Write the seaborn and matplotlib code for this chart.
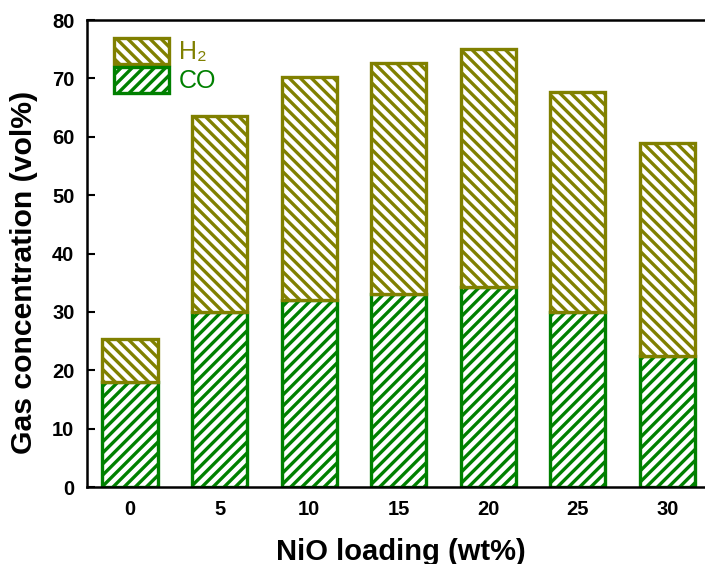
import matplotlib
matplotlib.use("Agg")
import matplotlib.pyplot as plt
import seaborn as sns
import pandas as pd
from matplotlib.patches import Patch

loading = ["0", "5", "10", "15", "20", "25", "30"]
co = [18.0, 30.0, 32.0, 33.0, 34.2, 30.0, 22.5]
total = [25.4, 63.5, 70.3, 72.7, 75.0, 67.7, 59.0]
h2 = [t - c for t, c in zip(total, co)]

GREEN = "#008000"
OLIVE = "#808000"

sns.set_theme(style="ticks")
plt.rcParams["font.family"] = ["Liberation Sans", "DejaVu Sans"]
plt.rcParams["hatch.linewidth"] = 2.4
for k in ["text.color", "axes.labelcolor", "xtick.color", "ytick.color", "axes.edgecolor"]:
    plt.rcParams[k] = "black"

df = pd.DataFrame({"loading": loading, "CO": co, "H2": h2})

fig = plt.figure(figsize=(7.05, 5.64), dpi=100)
ax = fig.add_axes([0.1234, 0.1365, 0.8766, 0.828])

sns.barplot(data=df, x="loading", y="CO", ax=ax, color="white", width=0.615,
            edgecolor=GREEN, linewidth=2.4, hatch="///", saturation=1)
sns.barplot(data=df, x="loading", y="H2", ax=ax, color="white", width=0.615,
            edgecolor=OLIVE, linewidth=2.4, hatch="\\\\\\", saturation=1,
            bottom=co)

ax.set_xlim(-0.48, 6.42)
ax.set_ylim(0, 80)
ax.set_yticks(range(0, 81, 10))
ax.tick_params(direction="in", length=6, width=1.5, labelsize=14.5, pad=9)
for lab in ax.get_xticklabels() + ax.get_yticklabels():
    lab.set_fontweight("bold")
ax.spines["right"].set_visible(False)
for s in ["left", "bottom", "top"]:
    ax.spines[s].set_linewidth(1.8)
    ax.spines[s].set_color("black")

ax.set_xlabel("NiO loading (wt%)", fontsize=21, fontweight="bold")
ax.set_ylabel("Gas concentration (vol%)", fontsize=21.7, fontweight="bold")
ax.xaxis.set_label_coords(0.508, -0.11)
ax.yaxis.set_label_coords(-0.079, 0.46)

handles = [Patch(facecolor="white", edgecolor=OLIVE, hatch="\\\\\\", linewidth=2.4, label="H\u2082"),
           Patch(facecolor="white", edgecolor=GREEN, hatch="///", linewidth=2.4, label="CO")]
leg = ax.legend(handles=handles, loc="upper left", frameon=False, fontsize=18,
                handlelength=2.2, handleheight=1.25, handletextpad=0.4,
                labelspacing=0.1, borderaxespad=0.3, bbox_to_anchor=(0.015, 1.0))
for txt, col in zip(leg.get_texts(), [OLIVE, GREEN]):
    txt.set_color(col)

fig.savefig("out.png", dpi=100)
